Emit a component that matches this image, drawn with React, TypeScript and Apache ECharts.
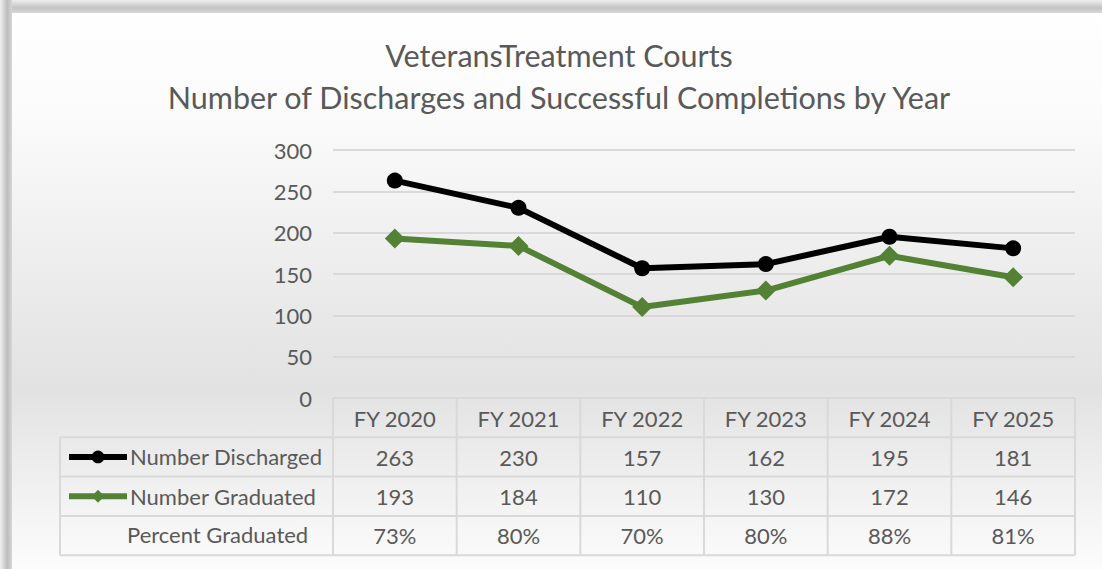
import React, { useEffect, useRef } from "react";
import * as echarts from "echarts";

const years = ["FY 2020", "FY 2021", "FY 2022", "FY 2023", "FY 2024", "FY 2025"];
const discharged = [263, 230, 157, 162, 195, 181];
const graduated = [193, 184, 110, 130, 172, 146];
const percentGraduated = ["73%", "80%", "70%", "80%", "88%", "81%"];
const yTicks = { min: 0, max: 300, interval: 50 };

const W = 1102;
const H = 569;
const GL = 333;
const GR = 1075;
const GT = 150;
const GB = 398;
const ROW = 39.3;
const FONT = "Lato, 'Open Sans', sans-serif";
const TXT = "#595959";
const LINE = "#d9d9d9";

export default function App() {
  const ref = useRef<HTMLDivElement>(null);
  useEffect(() => {
    document.body.style.margin = "0";
    const chart = echarts.init(ref.current!, null, { renderer: "svg" });
    const colW = (GR - GL) / years.length;
    const graphics: any[] = [];
    // background
    graphics.push({
      type: "rect", z: -10, silent: true,
      shape: { x: 0, y: 0, width: W, height: H },
      style: {
        fill: new echarts.graphic.LinearGradient(0, 0, 0, 1, [
          { offset: 0, color: "#ffffff" },
          { offset: 0.2, color: "#fbfbfb" },
          { offset: 0.68, color: "#e2e2e2" },
          { offset: 1, color: "#fcfcfc" },
        ]),
      },
    });
    graphics.push({
      type: "rect", z: -9, silent: true,
      shape: { x: 0, y: 0, width: W, height: 13 },
      style: {
        fill: new echarts.graphic.LinearGradient(0, 0, 0, 1, [
          { offset: 0, color: "#eeeeee" },
          { offset: 0.6, color: "#c4c4c4" },
          { offset: 1, color: "#d8d8d8" },
        ]),
      },
    });
    graphics.push({
      type: "rect", z: -9, silent: true,
      shape: { x: 0, y: 0, width: 12, height: H },
      style: {
        fill: new echarts.graphic.LinearGradient(0, 0, 1, 0, [
          { offset: 0, color: "#f0f0f0" },
          { offset: 0.6, color: "#bdbdbd" },
          { offset: 1, color: "#d6d6d6" },
        ]),
      },
    });
    // table lines
    const ls = { stroke: LINE, lineWidth: 2 };
    graphics.push({ type: "line", silent: true, shape: { x1: GL, y1: GB, x2: GR, y2: GB }, style: ls });
    for (let r = 1; r <= 4; r++) {
      const y = GB + r * ROW;
      graphics.push({ type: "line", silent: true, shape: { x1: 60, y1: y, x2: GR, y2: y }, style: ls });
    }
    graphics.push({ type: "line", silent: true, shape: { x1: 60, y1: GB + ROW, x2: 60, y2: GB + 4 * ROW }, style: ls });
    for (let i = 0; i <= years.length; i++) {
      const x = GL + i * colW;
      graphics.push({ type: "line", silent: true, shape: { x1: x, y1: GB, x2: x, y2: GB + 4 * ROW }, style: ls });
    }
    graphics.push({
      type: "text", silent: true, left: 127, top: GB + 3 * ROW + ROW / 2 - 12,
      style: { text: "Percent Graduated", fill: TXT, font: `22px ${FONT}` },
    });

    const rowAxis = (k: number, data: (string | number)[]) => ({
      type: "category",
      data: data.map(String),
      position: "bottom",
      offset: k * ROW,
      gridIndex: 0,
      axisLine: { show: false },
      axisTick: { show: false },
      splitLine: { show: false },
      axisLabel: { color: TXT, fontSize: 22, fontFamily: FONT, margin: 9, interval: 0 },
    });

    const legendItem = (name: string, row: number) => ({
      orient: "horizontal",
      left: 66,
      top: GB + row * ROW + ROW / 2 - 11,
      padding: 0,
      itemWidth: 58,
      itemHeight: 16,
      itemGap: 0,
      lineStyle: { width: 6 },
      textStyle: { fontSize: 22, lineHeight: 16, color: TXT, fontFamily: FONT, padding: [0, 0, 0, -2] },
      data: [name],
    });

    chart.setOption({
      animation: false,
      title: {
        text: "VeteransTreatment Courts\nNumber of Discharges and Successful Completions by Year",
        left: 559,
        top: 34,
        padding: 0,
        textAlign: "center",
        textStyle: { fontSize: 30.5, fontWeight: "normal", color: TXT, fontFamily: FONT, lineHeight: 42 },
      },
      legend: [legendItem("Number Discharged", 1), legendItem("Number Graduated", 2)],
      grid: { left: GL, right: W - GR, top: GT, bottom: H - GB, containLabel: false },
      xAxis: [
        {
          type: "category",
          data: years,
          axisLine: { show: false },
          axisTick: { show: false },
          axisLabel: { color: TXT, fontSize: 22, fontFamily: FONT, margin: 9 },
        },
        rowAxis(1, discharged),
        rowAxis(2, graduated),
        rowAxis(3, percentGraduated),
      ],
      yAxis: {
        type: "value",
        min: yTicks.min,
        max: yTicks.max,
        interval: yTicks.interval,
        axisLine: { show: false },
        axisTick: { show: false },
        axisLabel: { color: TXT, fontSize: 22, fontFamily: FONT, margin: 21 },
        splitLine: { lineStyle: { color: LINE, width: 2 } },
      },
      series: [
        {
          name: "Number Discharged",
          type: "line",
          data: discharged,
          symbol: "circle",
          symbolSize: 16,
          lineStyle: { color: "#000000", width: 6 },
          itemStyle: { color: "#000000" },
        },
        {
          name: "Number Graduated",
          type: "line",
          data: graduated,
          symbol: "diamond",
          symbolSize: 20,
          lineStyle: { color: "#548235", width: 6 },
          itemStyle: { color: "#548235" },
        },
      ],
      graphic: graphics,
    });
    return () => chart.dispose();
  }, []);
  return <div ref={ref} style={{ width: W, height: H }} />;
}
